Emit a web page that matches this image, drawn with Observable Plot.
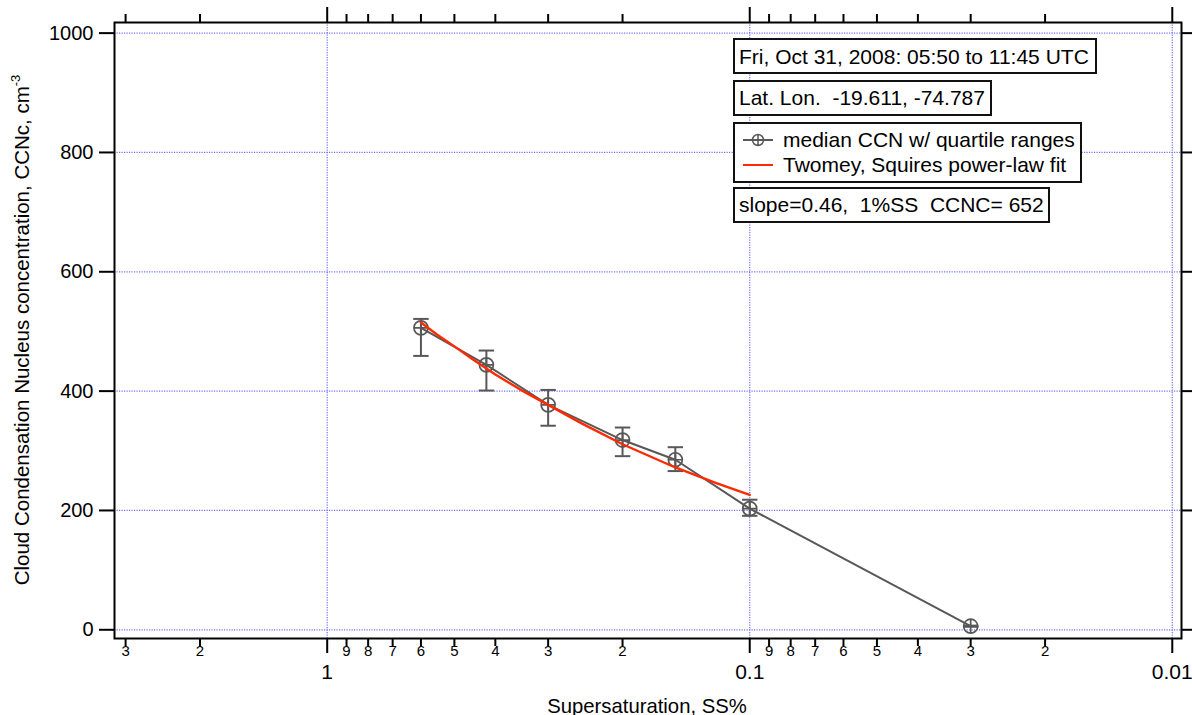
<!DOCTYPE html>
<html><head><meta charset="utf-8">
<script src="https://cdn.jsdelivr.net/npm/d3@7"></script>
<script src="https://cdn.jsdelivr.net/npm/@observablehq/plot@0.6"></script>
<style>
body{margin:0;background:#fff;}
svg{font-family:"Liberation Sans", Arial, Helvetica, sans-serif;}
</style>
</head><body><div id="chart"></div>
<script>
// ---- data ----
const ssValues  = [0.6, 0.42, 0.3, 0.2, 0.15, 0.1, 0.03];
const ccnMedian = [506, 444, 377, 318, 285, 203, 6];
const ccnLower  = [459, 401, 342, 291, 266, 191, 5];
const ccnUpper  = [521, 468, 402, 339, 306, 218, 7];
const fitSS  = [0.6, 0.55, 0.5, 0.45, 0.4, 0.35, 0.3, 0.25, 0.2, 0.15, 0.12, 0.1];
const fitCCN = [515, 495, 475, 452, 428, 403, 377, 346, 311, 272, 246, 226];
const yTicks = [0, 200, 400, 600, 800, 1000];
const xMajorTicks = [1, 0.1, 0.01];
const xMinorTicks = [3, 2, 0.9, 0.8, 0.7, 0.6, 0.5, 0.4, 0.3, 0.2, 0.09, 0.08, 0.07, 0.06, 0.05, 0.04, 0.03, 0.02];
const xTitle = "Supersaturation, SS%";
const yTitle = "Cloud Condensation Nucleus concentration, CCNc, cm";
const yTitleSup = "-3";
const infoLines = ["Fri, Oct 31, 2008: 05:50 to 11:45 UTC", "Lat. Lon.  -19.611, -74.787", "slope=0.46,  1%SS  CCNC= 652"];
const legendLabels = ["median CCN w/ quartile ranges", "Twomey, Squires power-law fit"];

const points = ssValues.map((s, i) => ({ss: s, median: ccnMedian[i], lo: ccnLower[i], hi: ccnUpper[i]}));
const fit = fitSS.map((s, i) => ({ss: s, ccn: fitCCN[i]}));

const gray = "#585858";
const red = "#ff2a00";
const gridColor = "#7272ff";

const circlePlus = {draw(ctx, size) {
  const r = Math.sqrt(size / Math.PI);
  ctx.moveTo(r, 0); ctx.arc(0, 0, r, 0, 2 * Math.PI);
  ctx.moveTo(-r, 0); ctx.lineTo(r, 0);
  ctx.moveTo(0, -r); ctx.lineTo(0, r);
}};
const hCap = {draw(ctx, size) {
  const r = Math.sqrt(size / Math.PI);
  ctx.moveTo(-r, 0); ctx.lineTo(r, 0);
}};
const leadDigit = d => String(Math.round(d / Math.pow(10, Math.floor(Math.log10(d) + 1e-9))));

const svg = Plot.plot({
  width: 1192, height: 715,
  marginLeft: 114, marginRight: 11, marginTop: 22, marginBottom: 77,
  style: {background: "#fff", overflow: "visible", fontFamily: "Liberation Sans, Arial, sans-serif"},
  x: {type: "log", domain: [3.187, 0.00951]},
  y: {domain: [-14.6, 1017.8]},
  marks: [
    Plot.gridY(yTicks, {stroke: gridColor, strokeOpacity: 1, strokeWidth: 1.2, strokeDasharray: "1.2,1.3"}),
    Plot.gridX(xMajorTicks, {stroke: gridColor, strokeOpacity: 1, strokeWidth: 1.2, strokeDasharray: "1.2,1.3"}),
    Plot.axisY(yTicks, {anchor: "left", tickSize: 15, tickPadding: 6, fontSize: 20, strokeWidth: 2, tickFormat: d => String(d), label: null}),
    Plot.axisY(yTicks, {anchor: "right", tickSize: 11, tickFormat: () => "", strokeWidth: 2, label: null}),
    Plot.axisX(xMajorTicks, {anchor: "bottom", tickSize: 15, tickPadding: 11, fontSize: 21, strokeWidth: 2, tickFormat: d => String(d), label: null}),
    Plot.axisX(xMinorTicks, {anchor: "bottom", tickSize: 8, strokeWidth: 2, tickFormat: () => "", label: null}),
    Plot.text(xMinorTicks, {x: d => d, frameAnchor: "bottom", dy: 17, text: leadDigit, fontSize: 15, fill: "black"}),
    Plot.axisX(xMajorTicks, {anchor: "top", tickSize: 16, strokeWidth: 2, tickFormat: () => "", label: null}),
    Plot.axisX(xMinorTicks, {anchor: "top", tickSize: 9, strokeWidth: 2, tickFormat: () => "", label: null}),
    Plot.frame({stroke: "black", strokeWidth: 2}),
    Plot.ruleX(points, {x: "ss", y1: "lo", y2: "hi", stroke: gray, strokeWidth: 2}),
    Plot.dot(points, {x: "ss", y: "lo", r: 7.7, symbol: hCap, stroke: gray, strokeWidth: 2, fill: "none"}),
    Plot.dot(points, {x: "ss", y: "hi", r: 7.7, symbol: hCap, stroke: gray, strokeWidth: 2, fill: "none"}),
    Plot.line(points, {x: "ss", y: "median", stroke: gray, strokeWidth: 2}),
    Plot.dot(points, {x: "ss", y: "median", r: 7, symbol: circlePlus, stroke: gray, strokeWidth: 1.7, fill: "none"}),
    Plot.line(fit, {x: "ss", y: "ccn", stroke: red, strokeWidth: 2.4})
  ]
});
document.getElementById("chart").appendChild(svg);

const s = d3.select(svg);
// axis titles
s.append("text").attr("x", 647).attr("y", 713).attr("text-anchor", "middle")
  .attr("font-size", 20.3).attr("fill", "black").text(xTitle);
const yt = s.append("text").attr("transform", "translate(29,330) rotate(-90)").attr("text-anchor", "middle")
  .attr("font-size", 20.5).attr("fill", "black");
yt.append("tspan").text(yTitle);
yt.append("tspan").attr("dy", -9).attr("font-size", 13).text(yTitleSup);

// annotation boxes
const fs = 21;
const boxes = [
  {x: 734, y: 39, w: 362, h: 34},
  {x: 734, y: 81, w: 257, h: 34},
  {x: 734, y: 123, w: 347, h: 59},
  {x: 734, y: 188, w: 315, h: 34}
];
const g = s.append("g").attr("text-anchor", "start");
boxes.forEach(b => g.append("rect").attr("x", b.x).attr("y", b.y).attr("width", b.w).attr("height", b.h)
  .attr("fill", "white").attr("stroke", "#111").attr("stroke-width", 2));
const addText = (x, y, t) => g.append("text").attr("x", x).attr("y", y).attr("font-size", fs)
  .attr("text-anchor", "start").attr("fill", "black").style("white-space", "pre").text(t);
addText(739, 63.5, infoLines[0]);
addText(739, 104.5, infoLines[1]);
addText(739, 212, infoLines[2]);
addText(783, 147, legendLabels[0]);
addText(783, 172, legendLabels[1]);
g.append("line").attr("x1", 743).attr("x2", 773).attr("y1", 140).attr("y2", 140).attr("stroke", gray).attr("stroke-width", 2);
const sym = d3.path(); circlePlus.draw(sym, 5.5 * 5.5 * Math.PI);
g.append("path").attr("d", sym.toString()).attr("transform", "translate(758,140)").attr("fill", "none").attr("stroke", gray).attr("stroke-width", 1.5);
g.append("line").attr("x1", 743).attr("x2", 773).attr("y1", 165).attr("y2", 165).attr("stroke", red).attr("stroke-width", 2);
</script>
</body></html>
